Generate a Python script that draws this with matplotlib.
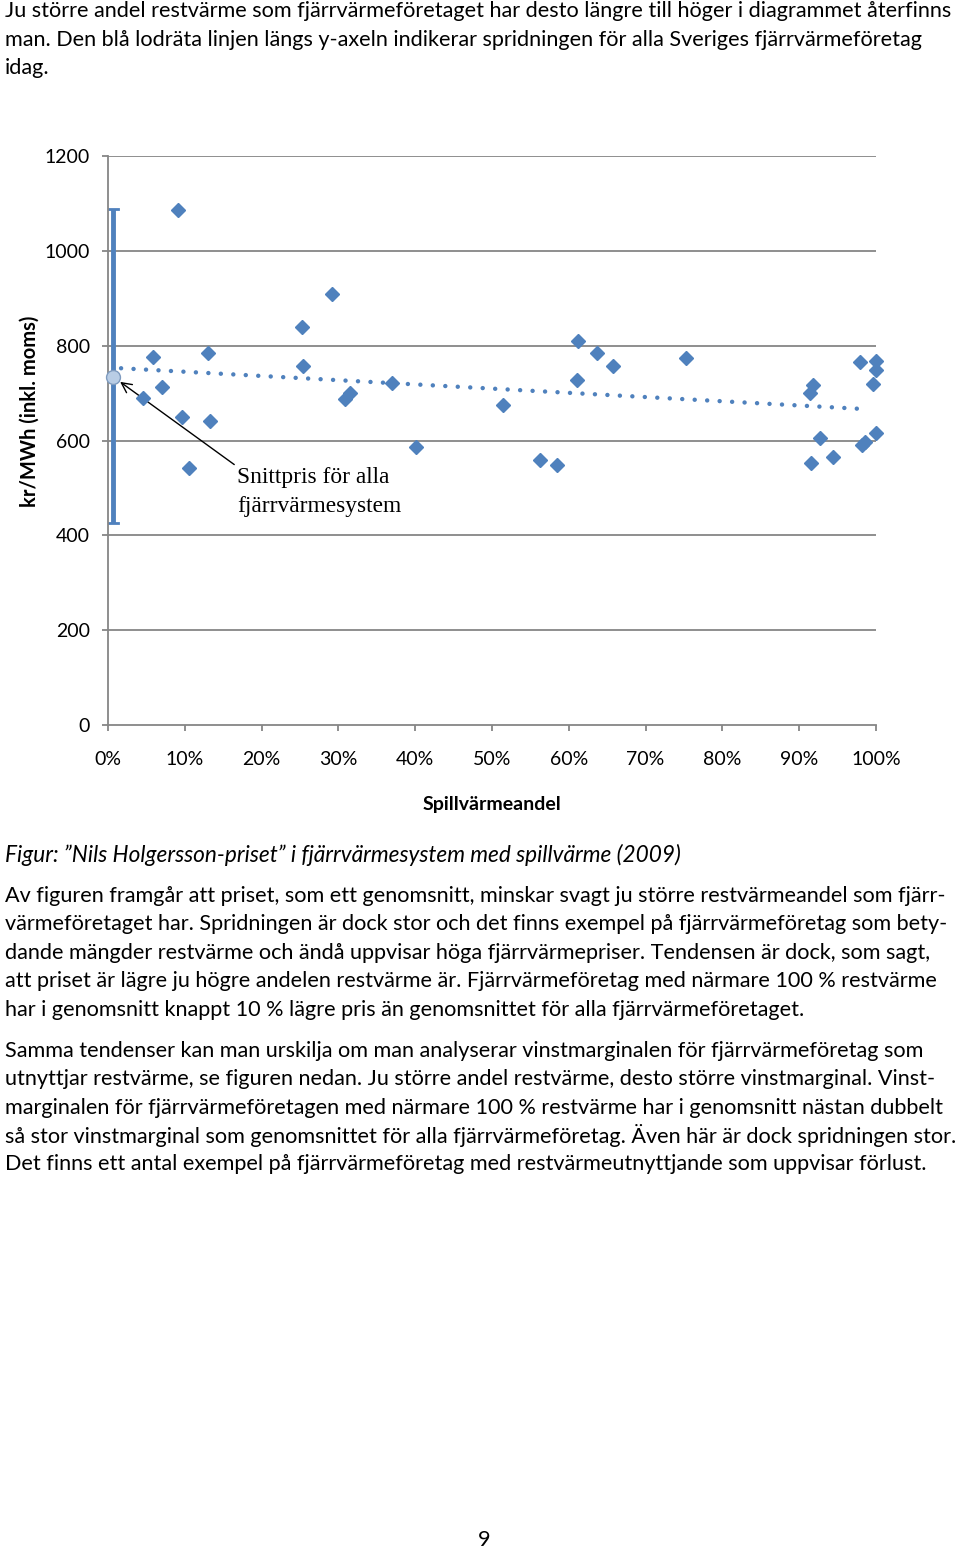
import numpy as np
import matplotlib
matplotlib.use("Agg")
import matplotlib.pyplot as plt

plt.rcParams['font.family'] = ['Lato', 'DejaVu Sans']

# spillvärmeandel (%) och pris (kr/MWh inkl. moms)
andel = [4.6, 5.9, 7.0, 9.1, 9.6, 10.5, 13.0, 13.3, 25.3, 25.4, 29.2, 30.9, 31.5,
         37.0, 40.1, 51.4, 56.3, 58.5, 61.1, 61.2, 63.7, 65.8, 75.3, 91.4, 91.5,
         91.8, 92.7, 94.4, 97.9, 98.2, 98.6, 99.6, 100, 100, 100]
pris = [690, 776, 713, 1086, 650, 542, 784, 641, 839, 757, 909, 687, 700,
        721, 586, 675, 559, 548, 727, 810, 784, 757, 774, 700, 553,
        717, 605, 565, 765, 590, 597, 719, 768, 749, 616]

# snittpris och spridning för alla fjärrvärmesystem
snitt_x = 0.7
snitt_pris = 734
spridning = (426, 1088)

xticks = list(range(0, 101, 10))
yticks = list(range(0, 1201, 200))

blue = '#4F81BD'
grey = '#868686'
body = 15.6

fig = plt.figure(figsize=(9.6, 15.5), dpi=100)
ax = fig.add_axes([108 / 960, 1 - 725 / 1550, 768 / 960, 569 / 1550])

ax.set_xlim(0, 100)
ax.set_ylim(0, 1200)
for y in yticks[1:]:
    ax.axhline(y, color=grey, lw=1.3, zorder=0)

# spridning
ax.plot([snitt_x, snitt_x], spridning, color=blue, lw=3.5, solid_capstyle='butt', zorder=2)
ax.plot([snitt_x - 0.6, snitt_x + 0.6], [spridning[1]] * 2, color=blue, lw=2, zorder=2)
ax.plot([snitt_x - 0.6, snitt_x + 0.6], [spridning[0]] * 2, color=blue, lw=2, zorder=2)

# trendlinje
k, m = np.polyfit(andel, pris, 1)
tx = np.array([1.7, 99])
ax.plot(tx, k * tx + m, color=blue, lw=3.2, linestyle=(0, (0.01, 2.8)),
        dash_capstyle='round', zorder=3)

ax.plot(andel, pris, linestyle='none', marker='D', markersize=7.5, color=blue,
        markeredgecolor=blue, zorder=4, clip_on=False)
ax.plot([snitt_x], [snitt_pris], marker='o', markersize=10, color='#B9CDE5',
        markeredgecolor='#7F9BBF', markeredgewidth=1, zorder=5, clip_on=False)

ax.annotate('Snittpris för alla\nfjärrvärmesystem', xy=(snitt_x, snitt_pris),
            xytext=(16.8, 545), textcoords='data', ha='left', va='top',
            fontsize=16.8, family=['Liberation Serif'], linespacing=1.55,
            arrowprops=dict(arrowstyle='->', color='black', lw=1,
                            relpos=(0, 1), shrinkA=0, shrinkB=6, mutation_scale=18))

for s in ['top', 'right']:
    ax.spines[s].set_visible(False)
for s in ['left', 'bottom']:
    ax.spines[s].set_color(grey)
    ax.spines[s].set_linewidth(1.3)

ax.set_xticks(xticks)
ax.set_xticklabels([f'{t}%' for t in xticks])
ax.set_yticks(yticks)
ax.tick_params(axis='both', colors=grey, labelcolor='black', labelsize=14,
               length=4, width=1.3, direction='out')
ax.tick_params(axis='y', pad=9)
ax.tick_params(axis='x', pad=15)

ax.set_xlabel('Spillvärmeandel', fontsize=14, fontweight='bold', labelpad=20)
fig.text(30 / 960, 1 - 411 / 1550, 'kr/MWh (inkl. moms)', rotation=90,
         ha='center', va='center', fontsize=14.5, fontweight='bold')

top_lines = [
    'Ju större andel restvärme som fjärrvärmeföretaget har desto längre till höger i diagrammet återfinns',
    'man. Den blå lodräta linjen längs y-axeln indikerar spridningen för alla Sveriges fjärrvärmeföretag',
    'idag.',
]
for i, line in enumerate(top_lines):
    fig.text(5 / 960, 1 - (11 + 28.5 * i) / 1550, line, ha='left', va='center', fontsize=body)

fig.text(5 / 960, 1 - 855 / 1550,
         'Figur: ”Nils Holgersson-priset” i fjärrvärmesystem med spillvärme (2009)',
         ha='left', va='center', fontsize=16.3, style='italic')

para1 = [
    'Av figuren framgår att priset, som ett genomsnitt, minskar svagt ju större restvärmeandel som fjärr-',
    'värmeföretaget har. Spridningen är dock stor och det finns exempel på fjärrvärmeföretag som bety-',
    'dande mängder restvärme och ändå uppvisar höga fjärrvärmepriser. Tendensen är dock, som sagt,',
    'att priset är lägre ju högre andelen restvärme är. Fjärrvärmeföretag med närmare 100 % restvärme',
    'har i genomsnitt knappt 10 % lägre pris än genomsnittet för alla fjärrvärmeföretaget.',
]
para2 = [
    'Samma tendenser kan man urskilja om man analyserar vinstmarginalen för fjärrvärmeföretag som',
    'utnyttjar restvärme, se figuren nedan. Ju större andel restvärme, desto större vinstmarginal. Vinst-',
    'marginalen för fjärrvärmeföretagen med närmare 100 % restvärme har i genomsnitt nästan dubbelt',
    'så stor vinstmarginal som genomsnittet för alla fjärrvärmeföretag. Även här är dock spridningen stor.',
    'Det finns ett antal exempel på fjärrvärmeföretag med restvärmeutnyttjande som uppvisar förlust.',
]
for i, line in enumerate(para1):
    fig.text(5 / 960, 1 - (896 + 28.5 * i) / 1550, line, ha='left', va='center', fontsize=body)
for i, line in enumerate(para2):
    fig.text(5 / 960, 1 - (1051 + 28.3 * i) / 1550, line, ha='left', va='center', fontsize=body)

fig.text(484 / 960, 1 - 1540 / 1550, '9', ha='center', va='center', fontsize=body)

fig.savefig('out.png', dpi=100)
